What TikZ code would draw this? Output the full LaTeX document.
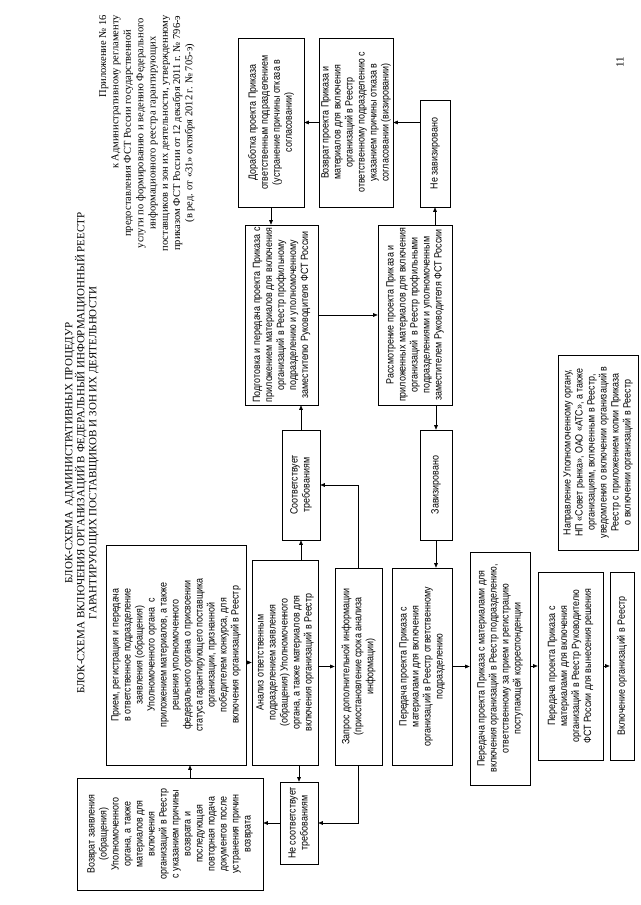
\documentclass[tikz,border=0pt]{standalone}
\usepackage{fontspec}
\setmainfont{Liberation Serif}
\newfontfamily\boxfont[FakeStretch=0.85]{Liberation Sans}
\usetikzlibrary{arrows.meta}
\begin{document}
\begin{tikzpicture}[x=1pt,y=1pt,
  bx/.style={draw, line width=0.6pt, rotate=90, align=center, inner sep=1pt,
    font=\boxfont\fontsize{10.5}{12}\selectfont},
  arr/.style={line width=0.6pt, -{Triangle[length=4.5pt,width=3.6pt]}},
  hdr/.style={rotate=90, inner sep=0pt, font=\fontsize{10.5}{12.3}\selectfont},
  ttl/.style={rotate=90, inner sep=0pt, align=center, font=\fontsize{11}{12}\selectfont}]
\useasboundingbox (0,0) rectangle (640,905);
\fill[white] (0,0) rectangle (640,905);
\clip (0,0) rectangle (640,905);

\node[ttl] (title) at (82,452) {БЛОК-СХЕМА \ АДМИНИСТРАТИВНЫХ ПРОЦЕДУР\\БЛОК-СХЕМА ВКЛЮЧЕНИЯ ОРГАНИЗАЦИЙ В ФЕДЕРАЛЬНЫЙ ИНФОРМАЦИОННЫЙ РЕЕСТР\\ГАРАНТИРУЮЩИХ ПОСТАВЩИКОВ И ЗОН ИХ ДЕЯТЕЛЬНОСТИ};

\node[hdr, anchor=north east, align=right] (hdrA) at (99,890) {Приложение № 16\\к Административному регламенту};
\node[hdr, anchor=north east, align=center] (hdrB) at (123.6,890) {предоставления ФСТ России государственной\\услуги по формированию и ведению Федерального\\информационного реестра гарантирующих\\поставщиков и зон их деятельности, утвержденному\\приказом ФСТ России от 12 декабря 2011 г. № 796-э\\(в ред. от «31» октября 2012 г. № 705-э)};
\node[rotate=90, font=\fontsize{11}{12}\selectfont] (pnum) at (620,843) {11};

% upper part
\node[bx, minimum width=169pt, minimum height=66pt] (dorab) at (271,782.5) {Доработка проекта Приказа\\ответственным подразделением\\(устранение причины отказа в\\согласовании)};
\node[bx, minimum width=169pt, minimum height=74pt] (vozpr) at (356,782.5) {Возврат проекта Приказа и\\материалов для включения\\организаций в Реестр\\ответственному подразделению с\\указанием причины отказа в\\согласовании (визировании)};
\node[bx, minimum width=107pt, minimum height=30pt] (nezav) at (435,751.5) {Не завизировано};
\node[bx, minimum width=180pt, minimum height=73pt] (podg) at (281.5,590) {Подготовка и передача проекта Приказа с\\приложением материалов для включения\\организаций в Реестр профильному\\подразделению и уполномоченному\\заместителю Руководителя ФСТ России};
\node[bx, minimum width=180pt, minimum height=74pt] (rassm) at (415,590) {Рассмотрение проекта Приказа и\\приложенных материалов для включения\\организаций \ в Реестр профильными\\подразделениями и уполномоченным\\заместителем Руководителя ФСТ России};
\node[bx, minimum width=110pt, minimum height=38pt] (sootv) at (301,420) {Соответствует\\требованиям};
\node[bx, minimum width=110pt, minimum height=32pt] (zaviz) at (436,420) {Завизировано};

% lower part
\node[bx, minimum width=220pt, minimum height=140pt] (priem) at (176,250) {Прием, регистрация и передача\\в ответственное подразделение\\заявления (обращения)\\Уполномоченного органа \ с\\приложением материалов, а также\\решения уполномоченного\\федерального органа о присвоении\\статуса гарантирующего поставщика\\организации, признанной\\победителем конкурса, для\\включения организаций в Реестр};
\node[bx, minimum width=205pt, minimum height=66pt] (analiz) at (285,242.5) {Анализ ответственным\\подразделением заявления\\(обращения) Уполномоченного\\органа, а также материалов для\\включения организаций в Реестр};
\node[bx, minimum width=197pt, minimum height=47pt] (zapros) at (358.5,238.5) {Запрос дополнительной информации\\(приостановление срока анализа\\информации)};
\node[bx, minimum width=197pt, minimum height=60pt] (peredotv) at (422,238.5) {Передача проекта Приказа с\\материалами для включения\\организаций в Реестр ответственному\\подразделению};
\node[bx, minimum width=233pt, minimum height=60pt] (peredkorr) at (500,236.5) {Передача проекта Приказа с материалами для\\включения организаций в Реестр подразделению,\\ответственному за прием и регистрацию\\поступающей корреспонденции};
\node[bx, minimum width=188pt, minimum height=65pt] (peredruk) at (570.5,239) {Передача проекта Приказа с\\материалами для включения\\организаций в Реестр Руководителю\\ФСТ России для вынесения решения};
\node[bx, minimum width=188pt, minimum height=24pt] (vkl) at (622,239) {Включение организаций в Реестр};
\node[bx, minimum width=195pt, minimum height=80pt] (napr) at (598,452.5) {Направление Уполномоченному органу,\\НП «Совет рынка», ОАО «АТС», а также\\организациям, включенным в Реестр,\\уведомления о включении организаций в\\Реестр с приложением копии Приказа\\о включении организаций в Реестр};
\node[bx, minimum width=112pt, minimum height=186pt] (vozvr) at (170,71) {Возврат заявления\\(обращения)\\Уполномоченного\\органа, а также\\материалов для\\включения\\организаций в Реестр\\с указанием причины\\возврата и\\последующая\\повторная подача\\документов после\\устранения причин\\возврата};
\node[bx, minimum width=82pt, minimum height=38pt] (nesootv) at (299,82) {Не соответствует\\требованиям};

% connectors
\coordinate (retup) at ([xshift=14pt]priem.west);
\draw[arr] (priem.south |- analiz.north) -- (analiz.north);
\draw[arr] (sootv.center |- analiz.east) -- (sootv.west);
\draw[arr] (sootv.east) -- (sootv.east |- podg.west);
\draw[arr] (zapros.east) |- (sootv.south);
\draw[arr] (zapros.west) |- (nesootv.south);
\draw[arr] (analiz.south |- zapros.north) -- (zapros.north);
\draw[arr] (nesootv.center |- analiz.west) -- (nesootv.east);
\draw[arr] (nesootv.north) -- (vozvr.south |- nesootv.north);
\draw[arr] (retup |- vozvr.east) -- (retup);
\draw[arr] (podg.south) -- (rassm.north);
\draw[arr] (zaviz.center |- rassm.west) -- (zaviz.east);
\draw[arr] (nezav.center |- rassm.east) -- (nezav.west);
\draw[arr] (nezav.north |- vozpr.south) -- (vozpr.south);
\draw[arr] (vozpr.north) -- (dorab.south);
\draw[arr] (dorab.west) -- (dorab.west |- podg.east);
\draw[arr] (zaviz.west) -- (zaviz.west |- peredotv.east);
\draw[arr] (peredotv.south) -- (peredkorr.north |- peredotv.south);
\draw[arr] (peredkorr.south |- peredruk.north) -- (peredruk.north);
\draw[arr] (peredruk.south) -- (vkl.north);
\end{tikzpicture}
\end{document}
